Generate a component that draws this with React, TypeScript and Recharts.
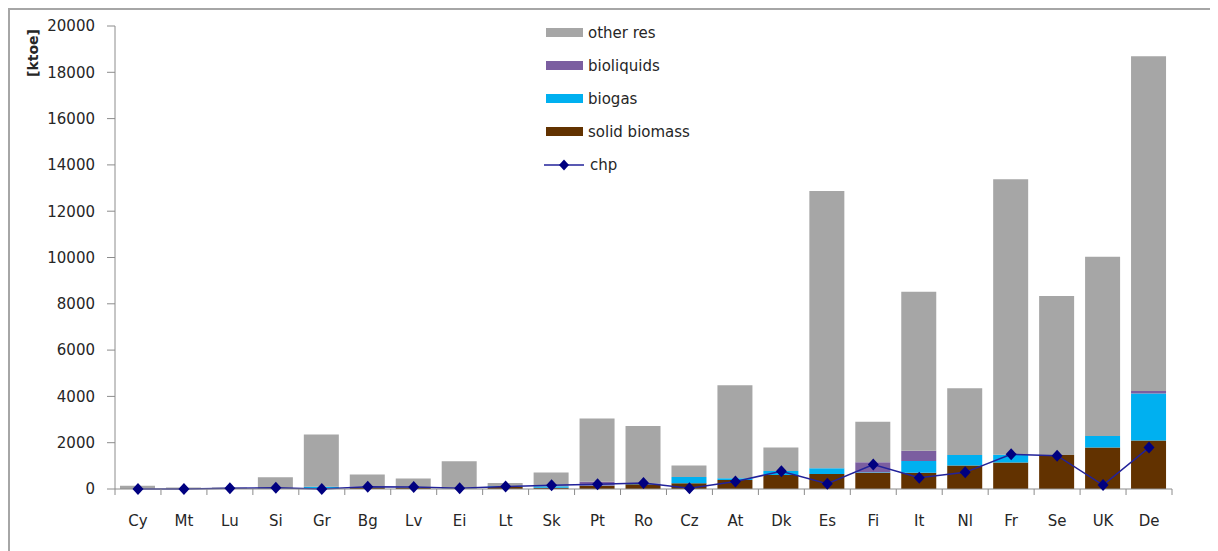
import { ComposedChart, Bar, Line, XAxis, YAxis, Legend } from 'recharts'

const countries = ['Cy', 'Mt', 'Lu', 'Si', 'Gr', 'Bg', 'Lv', 'Ei', 'Lt', 'Sk', 'Pt', 'Ro', 'Cz', 'At', 'Dk', 'Es', 'Fi', 'It', 'Nl', 'Fr', 'Se', 'UK', 'De']
const solidBiomass = [0, 0, 10, 20, 20, 80, 60, 10, 90, 50, 140, 200, 245, 390, 600, 650, 705, 705, 1020, 1150, 1470, 1790, 2090]
const biogas = [0, 0, 0, 10, 80, 10, 20, 10, 30, 70, 10, 30, 270, 70, 175, 245, 20, 505, 450, 330, 0, 500, 2030]
const bioliquids = [0, 0, 0, 0, 0, 20, 0, 0, 0, 0, 165, 20, 0, 0, 0, 0, 430, 445, 0, 0, 0, 0, 115]
const otherRes = [140, 70, 50, 480, 2250, 520, 370, 1180, 140, 590, 2725, 2470, 505, 4020, 1015, 11975, 1755, 6865, 2880, 11900, 6870, 7740, 14455]
const chp = [0, 0, 30, 55, 0, 100, 90, 30, 110, 160, 200, 260, 30, 320, 770, 230, 1060, 490, 720, 1500, 1440, 170, 1790]
const yTicks = [0, 2000, 4000, 6000, 8000, 10000, 12000, 14000, 16000, 18000, 20000]

const data = countries.map((c, i) => ({
  country: c,
  solid: solidBiomass[i],
  biogas: biogas[i],
  bioliquids: bioliquids[i],
  other: otherRes[i],
  chp: chp[i],
}))

const W = 1200
const H = 535
const margin = { top: 16, right: 38, bottom: 20, left: 10 }
const Y_W = 95
const band = (W - margin.left - margin.right - Y_W) / countries.length
const font = "'DejaVu Sans', sans-serif"
const axisColor = '#8c8c8c'
const textColor = '#262626'

const colors = {
  other: '#a6a6a6',
  bioliquids: '#7b5ea0',
  biogas: '#00b0f0',
  solid: '#623200',
  chpLine: '#22229a',
  chpDot: '#000080',
}

const XTick = (props: any) => {
  const { x, y, payload, index } = props
  const left = x - band / 2
  return (
    <g>
      <line x1={left} y1={y - 6} x2={left} y2={y} stroke={axisColor} />
      {index === countries.length - 1 && (
        <line x1={x + band / 2} y1={y - 6} x2={x + band / 2} y2={y} stroke={axisColor} />
      )}
      <text x={x} y={y + 31} textAnchor='middle' fill={textColor} fontSize={15} fontFamily={font}>
        {payload.value}
      </text>
    </g>
  )
}

const Diamond = ({ cx, cy }: any) => {
  if (cx == null || cy == null) return null
  return <polygon points={`${cx},${cy - 6} ${cx + 5.5},${cy} ${cx},${cy + 6} ${cx - 5.5},${cy}`} fill={colors.chpDot} />
}

const legendItems = [
  { name: 'other res', color: colors.other, kind: 'rect' },
  { name: 'bioliquids', color: colors.bioliquids, kind: 'rect' },
  { name: 'biogas', color: colors.biogas, kind: 'rect' },
  { name: 'solid biomass', color: colors.solid, kind: 'rect' },
  { name: 'chp', color: colors.chpLine, kind: 'line' },
]

const LegendBox = () => (
  <div style={{ fontFamily: font, fontSize: 15, color: textColor }}>
    {legendItems.map((it) => (
      <div key={it.name} style={{ display: 'flex', alignItems: 'center', height: 33 }}>
        {it.kind === 'rect' ? (
          <div style={{ width: 37, height: 9, background: it.color, marginLeft: 2, marginRight: 5 }} />
        ) : (
          <svg width={42} height={12} style={{ marginRight: 4 }}>
            <line x1={0} y1={6} x2={40} y2={6} stroke={colors.chpLine} strokeWidth={1.5} />
            <polygon points='20,0.5 25,6 20,11.5 15,6' fill={colors.chpDot} />
          </svg>
        )}
        <span>{it.name}</span>
      </div>
    ))}
  </div>
)

const YLabel = (props: any) => {
  const { viewBox } = props
  const x = viewBox.x + 13
  const y = viewBox.y + 27
  return (
    <text x={x} y={y} transform={`rotate(-90, ${x}, ${y})`} textAnchor='middle' dominantBaseline='central'
          fill={textColor} fontSize={14} fontWeight='bold' fontFamily={font}>
      [ktoe]
    </text>
  )
}

export default function App() {
  return (
    <div style={{ width: W + 10, height: H + 10, borderTop: '2px solid #a6a6a6', borderLeft: '2px solid #a6a6a6', background: '#fff' }}>
      <ComposedChart width={W} height={H} data={data} margin={margin}>
        <XAxis dataKey='country' interval={0} tickLine={false} tickSize={6} tickMargin={0}
               axisLine={{ stroke: axisColor }} tick={<XTick />} height={36} />
        <YAxis domain={[0, 20000]} ticks={yTicks} width={Y_W} tickSize={8} tickMargin={12}
               axisLine={{ stroke: axisColor }} tickLine={{ stroke: axisColor }}
               tick={{ fill: textColor, fontSize: 15, fontFamily: font }}
               label={<YLabel />} />
        <Legend layout='vertical' align='center' verticalAlign='middle' content={<LegendBox />}
                wrapperStyle={{ top: 6, left: 534, width: 220, height: 170 }} />
        <Bar dataKey='solid' name='solid biomass' stackId='a' fill={colors.solid} barSize={35} isAnimationActive={false} />
        <Bar dataKey='biogas' name='biogas' stackId='a' fill={colors.biogas} barSize={35} isAnimationActive={false} />
        <Bar dataKey='bioliquids' name='bioliquids' stackId='a' fill={colors.bioliquids} barSize={35} isAnimationActive={false} />
        <Bar dataKey='other' name='other res' stackId='a' fill={colors.other} barSize={35} isAnimationActive={false} />
        <Line dataKey='chp' name='chp' type='linear' stroke={colors.chpLine} strokeWidth={1.5}
              dot={(p: any) => <Diamond key={p.index} {...p} />} activeDot={false} isAnimationActive={false} />
      </ComposedChart>
    </div>
  )
}
